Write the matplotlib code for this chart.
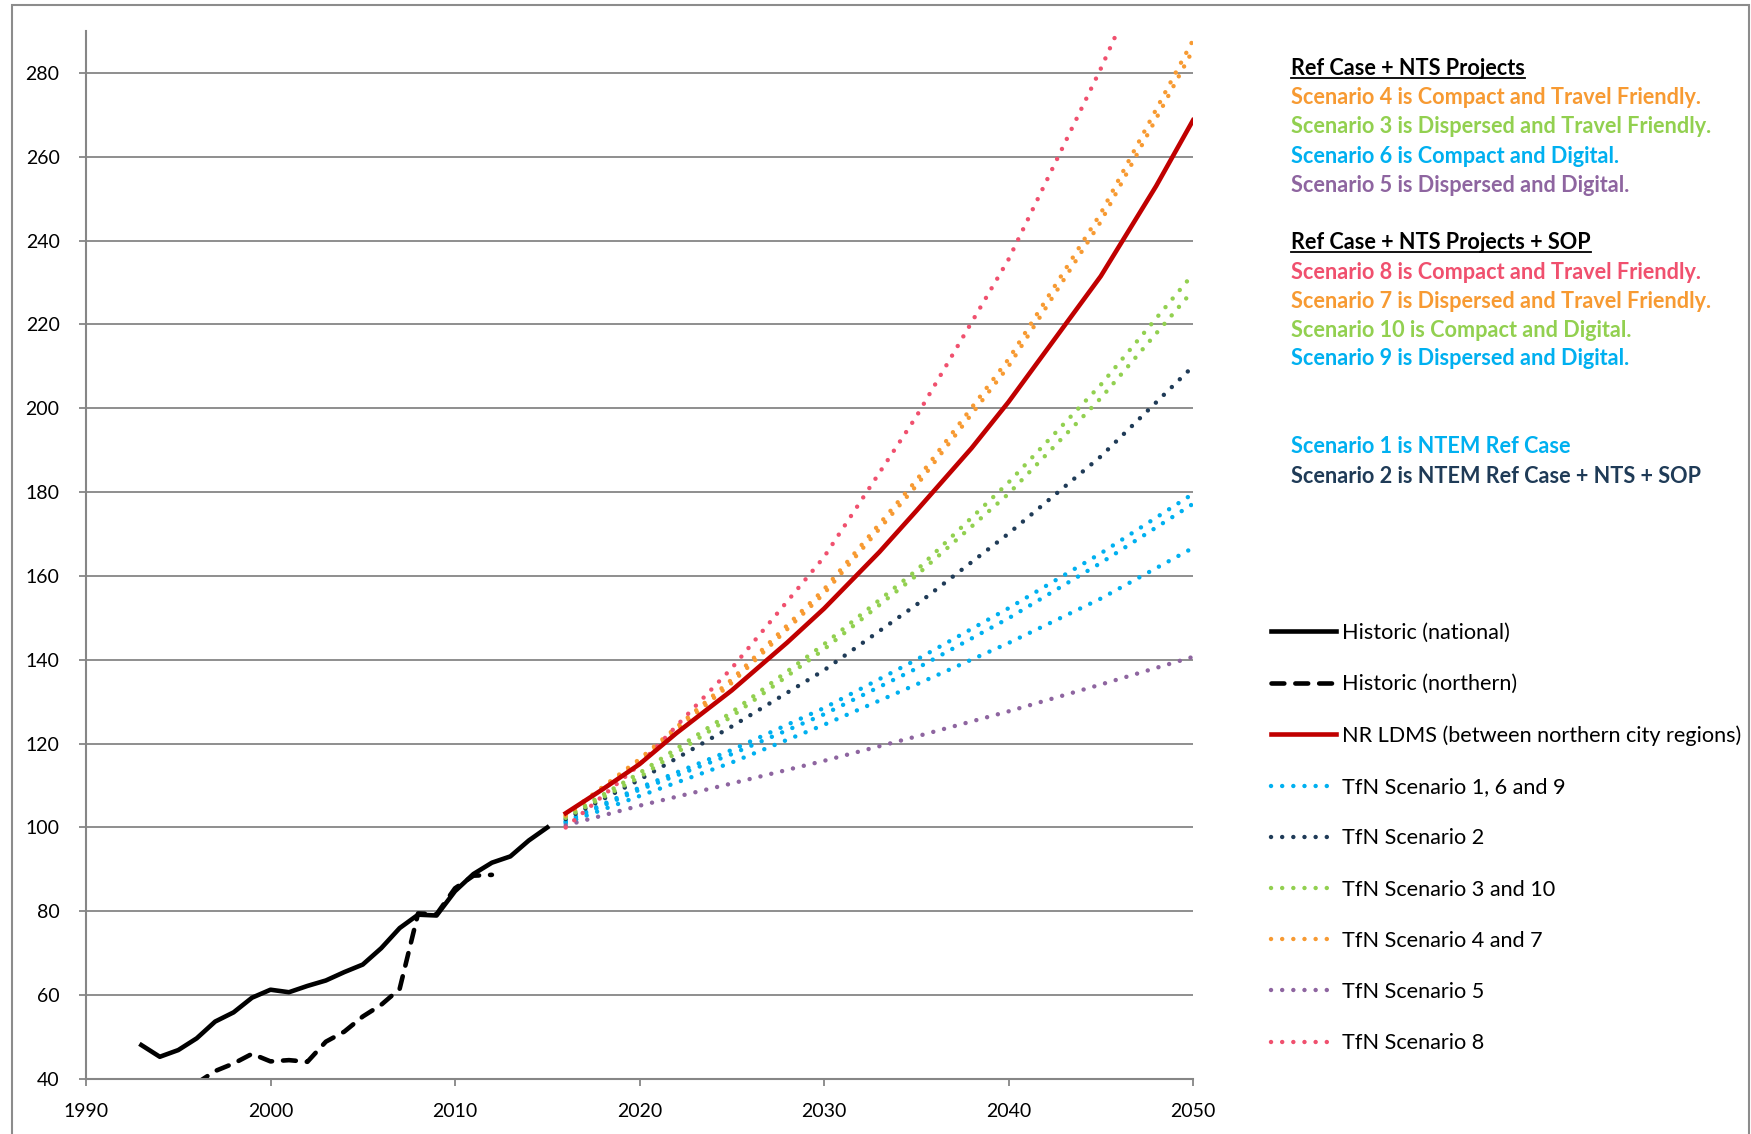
import matplotlib
matplotlib.use("Agg")
import matplotlib.pyplot as plt
from matplotlib.lines import Line2D
from matplotlib.patches import Rectangle

plt.rcParams['font.family'] = ['Lato', 'DejaVu Sans']

# historic series
hist_years = list(range(1993, 2016))
national = [48.1, 45.3, 46.9, 49.7, 53.7, 55.9, 59.4, 61.3, 60.7, 62.2, 63.5, 65.5,
            67.3, 71.2, 76.0, 79.2, 79.0, 84.8, 88.9, 91.6, 93.1, 96.9, 100.0]
north_years = list(range(1996, 2013))
northern = [39.0, 41.9, 43.7, 46.0, 44.2, 44.5, 44.1, 48.9, 51.3, 54.9, 57.7, 61.5,
            79.5, 79.3, 85.5, 88.5, 88.7]

# NR LDMS forecast
ldms_years = [2016, 2018, 2020, 2022, 2025, 2028, 2030, 2033, 2035, 2038, 2040, 2043, 2045, 2048, 2050]
ldms = [103.4, 109.1, 115.1, 122.5, 132.7, 144.1, 152.2, 165.7, 175.5, 190.5, 201.5, 219.5, 231.5, 253.0, 268.7]

# TfN scenarios
scen_years = [2016, 2020, 2025, 2030, 2035, 2040, 2045, 2050]
s1 = [101.5, 109.5, 118.5, 128.5, 140.0, 152.3, 165.4, 179.6]
s6 = [101.3, 109.0, 117.5, 127.0, 137.9, 149.9, 163.1, 177.2]
s9 = [101.0, 107.5, 115.5, 124.5, 134.1, 144.0, 154.6, 166.7]
s2 = [102.0, 111.4, 124.1, 137.5, 153.1, 170.1, 188.5, 210.0]
s3 = [102.5, 113.0, 127.5, 143.7, 161.3, 182.3, 205.6, 232.0]
s10 = [102.3, 112.0, 126.5, 142.5, 160.1, 179.6, 202.4, 228.1]
s4 = [103.0, 116.3, 135.3, 156.8, 182.8, 211.7, 246.5, 287.8]
s7 = [102.8, 115.8, 134.5, 155.8, 181.5, 210.0, 244.5, 285.5]
s5 = [100.5, 105.2, 110.5, 115.9, 121.7, 127.7, 134.1, 140.7]
s8 = [100.0, 115.0, 138.0, 164.5, 198.0, 235.5, 281.0, 330.0]

c_blue = '#00B0F0'
c_navy = '#1F3B57'
c_green = '#92D050'
c_orange = '#F79A32'
c_purple = '#8E65A0'
c_pink = '#F0506E'
c_red = '#C00000'
c_grid = '#868686'

fig = plt.figure(figsize=(17.51, 11.34), dpi=100)
ax = fig.add_axes([86 / 1751, 55 / 1134, (1193 - 86) / 1751, (1079 - 31) / 1134])

lw = 3.3
dots = dict(lw=3.2, linestyle=(0, (0.01, 2.5)), dash_capstyle='round')

h_nat, = ax.plot(hist_years, national, color='black', lw=lw, solid_joinstyle='round')
h_north, = ax.plot(north_years, northern, color='black', lw=lw, linestyle=(0, (2.8, 2.4)),
                   dash_capstyle='round')
h_blue, = ax.plot(scen_years, s1, color=c_blue, **dots)
ax.plot(scen_years, s6, color=c_blue, **dots)
ax.plot(scen_years, s9, color=c_blue, **dots)
h_navy, = ax.plot(scen_years, s2, color=c_navy, **dots)
h_green, = ax.plot(scen_years, s3, color=c_green, **dots)
ax.plot(scen_years, s10, color=c_green, **dots)
h_purple, = ax.plot(scen_years, s5, color=c_purple, **dots)
h_orange, = ax.plot(scen_years, s4, color=c_orange, **dots)
ax.plot(scen_years, s7, color=c_orange, **dots)
h_pink, = ax.plot(scen_years, s8, color=c_pink, **dots)
h_red, = ax.plot(ldms_years, ldms, color=c_red, lw=lw, solid_joinstyle='round')

ax.set_xlim(1990, 2050)
ax.set_ylim(40, 290)
ax.set_xticks(range(1990, 2051, 10))
ax.set_yticks(range(40, 281, 20))
ax.yaxis.grid(True, color=c_grid, lw=1.3)
ax.set_axisbelow(True)
for s in ['top', 'right']:
    ax.spines[s].set_visible(False)
for s in ['left', 'bottom']:
    ax.spines[s].set_color(c_grid)
    ax.spines[s].set_linewidth(1.5)
ax.tick_params(axis='both', colors=c_grid, labelcolor='black', labelsize=14,
               length=5, width=1.3)
ax.tick_params(axis='y', pad=14)
ax.tick_params(axis='x', pad=12)

# outer chart frame
fig.patches.append(Rectangle((12 / 1751, -0.05), (1749 - 12) / 1751, 1 - 5 / 1134 + 0.05,
                             transform=fig.transFigure, fill=False, ec='#8c8c8c', lw=1.5))

handles = [h_nat, h_north, h_red, h_blue, h_navy, h_green, h_orange, h_purple, h_pink]
labels = ['Historic (national)', 'Historic (northern)', 'NR LDMS (between northern city regions)',
          'TfN Scenario 1, 6 and 9', 'TfN Scenario 2', 'TfN Scenario 3 and 10',
          'TfN Scenario 4 and 7', 'TfN Scenario 5', 'TfN Scenario 8']
fig.legend(handles, labels, loc='upper left', bbox_to_anchor=(1271 / 1751, 1 - 623 / 1134),
           frameon=False, fontsize=15.6, handlelength=3.0, handletextpad=0.28,
           labelspacing=1.44, borderpad=0, borderaxespad=0)

# scenario notes
notes = [
    ('Ref Case + NTS Projects', 'black', 75, True),
    ('Scenario 4 is Compact and Travel Friendly.', c_orange, 104, False),
    ('Scenario 3 is Dispersed and Travel Friendly.', c_green, 133.3, False),
    ('Scenario 6 is Compact and Digital.', c_blue, 163, False),
    ('Scenario 5 is Dispersed and Digital.', c_purple, 192, False),
    ('Ref Case + NTS Projects + SOP', 'black', 249.3, True),
    ('Scenario 8 is Compact and Travel Friendly.', c_pink, 279, False),
    ('Scenario 7 is Dispersed and Travel Friendly.', c_orange, 308, False),
    ('Scenario 10 is Compact and Digital.', c_green, 336.5, False),
    ('Scenario 9 is Dispersed and Digital.', c_blue, 365, False),
    ('Scenario 1 is NTEM Ref Case', c_blue, 453.3, False),
    ('Scenario 2 is NTEM Ref Case + NTS + SOP', c_navy, 482.7, False),
]
heads = []
for txt, col, ybase, head in notes:
    t = fig.text(1291 / 1751, 1 - ybase / 1134, txt, color=col, fontsize=15.6,
                 fontweight='bold', va='baseline', ha='left')
    if head:
        heads.append((t, ybase))

fig.canvas.draw()
r = fig.canvas.get_renderer()
for t, ybase in heads:
    bb = t.get_window_extent(r)
    yy = 1 - (ybase + 3) / 1134
    fig.add_artist(Line2D([bb.x0 / 1751, bb.x1 / 1751], [yy, yy], color='black', lw=1.3,
                          transform=fig.transFigure))

fig.savefig('out.png', dpi=100)
